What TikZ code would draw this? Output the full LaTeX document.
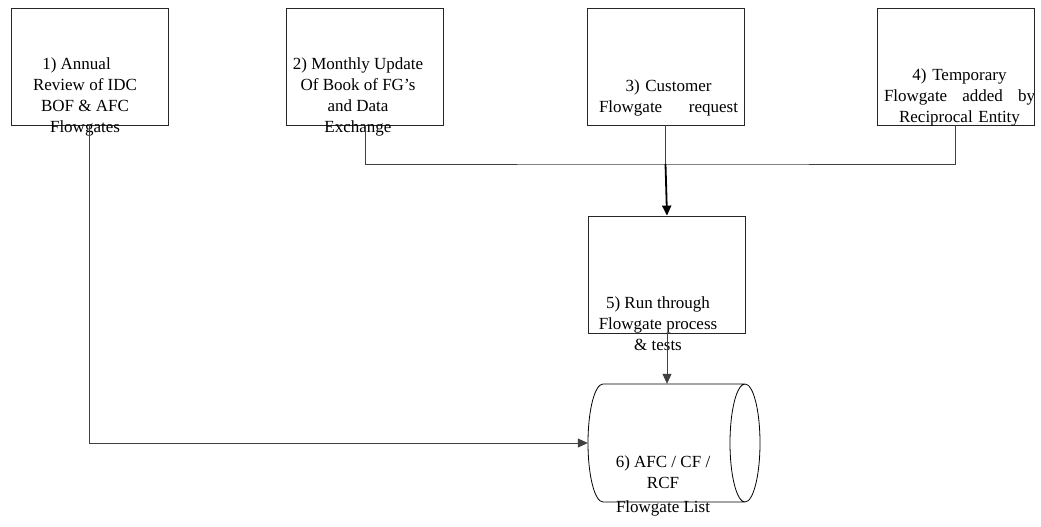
\documentclass[tikz,border=0pt]{standalone}
\usepackage{fontspec}
\setmainfont{Liberation Serif}
\usetikzlibrary{arrows.meta}

\begin{document}
\begin{tikzpicture}[x=1pt,y=-1pt,
    box/.style = {draw=black!85, line width=0.8pt, minimum width=157pt, minimum height=117pt, inner sep=0pt},
    txt/.style = {font=\fontsize{17}{21}\selectfont, align=center, inner sep=0pt},
    line/.style = {draw=black!75, line width=0.8pt},
    >={Triangle[length=10pt,width=9pt]}]
    \useasboundingbox (0,0) rectangle (1041,527);

    % Obere Reihe der Kaesten
    \node[box] (b1) at (89.5,66.5) {};
    \node[box] (b2) at (365,66.5) {};
    \node[box] (b3) at (665.5,66.5) {};
    \node[box] (b4) at (955.5,66.5) {};
    \node[txt] (t1) at (85,97) {1) Annual\hspace*{17pt}\\ Review of IDC\\ BOF \& AFC\\ Flowgates};
    \node[txt] (t2) at (358,97) {2) Monthly Update\\ Of Book of FG’s\\ and Data\\ Exchange};
    \node[txt,text width=139pt] (t3) at (668.5,97.5) {3) Customer\\ Flowgate\hfill request};
    \node[txt,text width=151pt] (t4) at (959.5,97.5) {4) Temporary\\ Flowgate\hfill added\hfill by\\ Reciprocal Entity};

    % Prozess und Liste
    \node[box] (b5) at (667,274.5) {};
    \node[txt] (t5) at (658,324) {5) Run through\\ Flowgate process\\ \& tests};
    \node[minimum width=173pt, minimum height=118pt, inner sep=0pt] (c6) at (674.5,443) {};
    \draw[line width=0.8pt] (745,384) -- (603,384)
        arc[start angle=270, end angle=90, x radius=15, y radius=59] -- (745,502)
        (745,443) ellipse[x radius=15, y radius=59];
    \node[txt] (t6) at (663,486) {6) AFC / CF /\\ RCF\\[3pt] Flowgate List};

    % Verbindungen
    \coordinate (j) at (665.5,164);
    \draw[line] (b2.south) |- (j) -| (b4.south);
    \draw[line] (b3.south) -- (j);
    \draw[->, line width=1.8pt] (j) -- (b5.north);
    \draw[->, line] (b5.south) -- (b5.south |- c6.north);
    \draw[->, line] (b1.south) |- (c6.west);
\end{tikzpicture}
\end{document}
